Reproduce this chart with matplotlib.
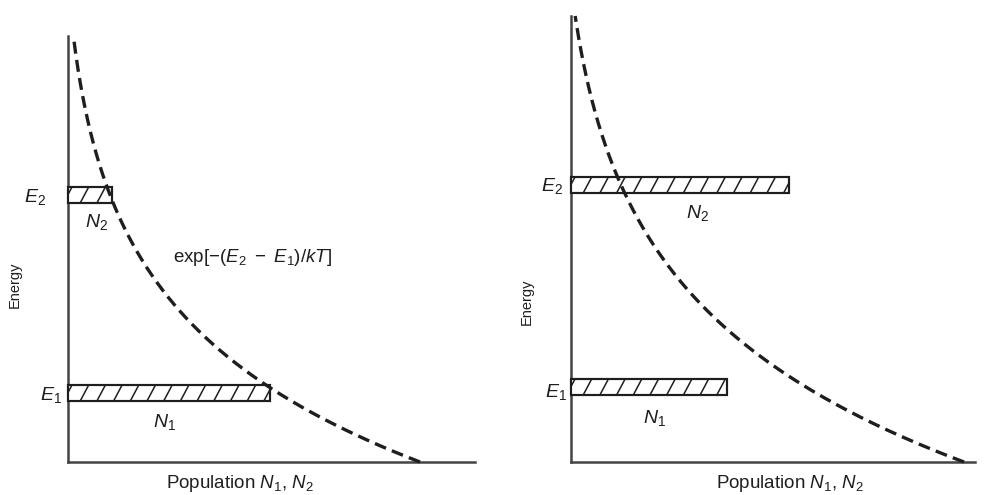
import numpy as np
import matplotlib
matplotlib.use("Agg")
import matplotlib.pyplot as plt
from matplotlib.patches import Rectangle

plt.rcParams['font.family'] = ['Liberation Sans', 'DejaVu Sans']
plt.rcParams['mathtext.fontset'] = 'custom'
plt.rcParams['mathtext.rm'] = 'Liberation Sans'
plt.rcParams['mathtext.it'] = 'Liberation Sans:italic'

# ---- data (arbitrary units) ----
# left panel: thermal equilibrium
left_levels = [69, 267]          # E1, E2
left_pops = [202, 44]            # N1, N2
left_curve = dict(A=364.0, c=12.0, kT=140.0, Emax=426)
left_xlim = 407
left_ylim = 426

# right panel: population inversion
right_levels = [75, 277]
right_pops = [156, 218]
right_curve = dict(A=412.0, c=19.0, kT=155.0, Emax=446)
right_xlim = 404
right_ylim = 446

level_labels = [r'$E_1$', r'$E_2$']
pop_labels = [r'$N_1$', r'$N_2$']
xlabel = r'Population $N_1$, $N_2$'
ylabel = 'Energy'
curve_label = r'$\mathrm{exp}[-(E_2\ -\ E_1)/kT]$'

INK = '#1e1e1e'
BAR_H = 16
HATCH_STEP = 16.7
HATCH_SLANT = 8.5

W, H = 996, 495
fig = plt.figure(figsize=(W / 100, H / 100), dpi=100)


def make_ax(px_left, px_bottom, px_w, px_h):
    return fig.add_axes([px_left / W, (H - px_bottom) / H, px_w / W, px_h / H])


def hatched_bar(ax, e, n):
    rect = Rectangle((0, e - BAR_H / 2), n, BAR_H, facecolor='white',
                     edgecolor=INK, lw=1.5, zorder=4, clip_on=False)
    ax.add_patch(rect)
    y0, y1 = e - BAR_H / 2, e + BAR_H / 2
    for x0 in np.arange(-HATCH_SLANT + 4, n, HATCH_STEP):
        ln, = ax.plot([x0, x0 + HATCH_SLANT], [y0, y1], color=INK, lw=1.1,
                      zorder=5, solid_capstyle='butt')
        ln.set_clip_path(rect)
    # redraw outline on top
    ax.add_patch(Rectangle((0, e - BAR_H / 2), n, BAR_H, facecolor='none',
                           edgecolor=INK, lw=1.5, zorder=6, clip_on=False))


def draw_panel(ax, levels, pops, curve, xlim, ylim, lab_pos, pop_pos, elabel_pos, xlab_x, show_exp):
    ax.set_xlim(0, xlim)
    ax.set_ylim(0, ylim)
    for s in ['top', 'right']:
        ax.spines[s].set_visible(False)
    for s in ['left', 'bottom']:
        ax.spines[s].set_color('#444444')
        ax.spines[s].set_linewidth(1.8)
    ax.set_xticks([])
    ax.set_yticks([])
    ax.patch.set_alpha(0)

    E = np.linspace(0, curve['Emax'], 400)
    N = curve['A'] * np.exp(-E / curve['kT']) - curve['c']
    ax.plot(N, E, color=INK, lw=2.4, dashes=(3.6, 1.9), clip_on=False,
            dash_capstyle='butt', zorder=7)

    for i, (e, n) in enumerate(zip(levels, pops)):
        hatched_bar(ax, e, n)
        lx, ly = lab_pos[i]
        ax.text(lx, e + ly, level_labels[i], fontsize=14, color=INK,
                ha='center', va='center', clip_on=False)
        px, py = pop_pos[i]
        ax.text(px, e + py, pop_labels[i], fontsize=14, color=INK,
                ha='center', va='center', clip_on=False)

    ax.text(elabel_pos[0], elabel_pos[1], ylabel, rotation=90, fontsize=10.5,
            color=INK, ha='center', va='center', clip_on=False)
    ax.text(xlab_x, -21, xlabel, fontsize=13.5, color=INK, ha='center',
            va='center', clip_on=False)
    if show_exp:
        ax.text(105, 204, curve_label, fontsize=13.5, color=INK, ha='left',
                va='center', clip_on=False)


ax1 = make_ax(68, 462, left_xlim, left_ylim)
draw_panel(ax1, left_levels, left_pops, left_curve, left_xlim, left_ylim,
           lab_pos=[(-17, -2), (-33, -2)], pop_pos=[(96, -29), (28, -27)],
           elabel_pos=(-53, 177), xlab_x=172, show_exp=True)

ax2 = make_ax(571, 462, right_xlim, right_ylim)
draw_panel(ax2, right_levels, right_pops, right_curve, right_xlim, right_ylim,
           lab_pos=[(-15, -5), (-19, -1)], pop_pos=[(83, -31), (126, -28)],
           elabel_pos=(-44, 160), xlab_x=219, show_exp=False)

fig.savefig('out.png', dpi=100)
